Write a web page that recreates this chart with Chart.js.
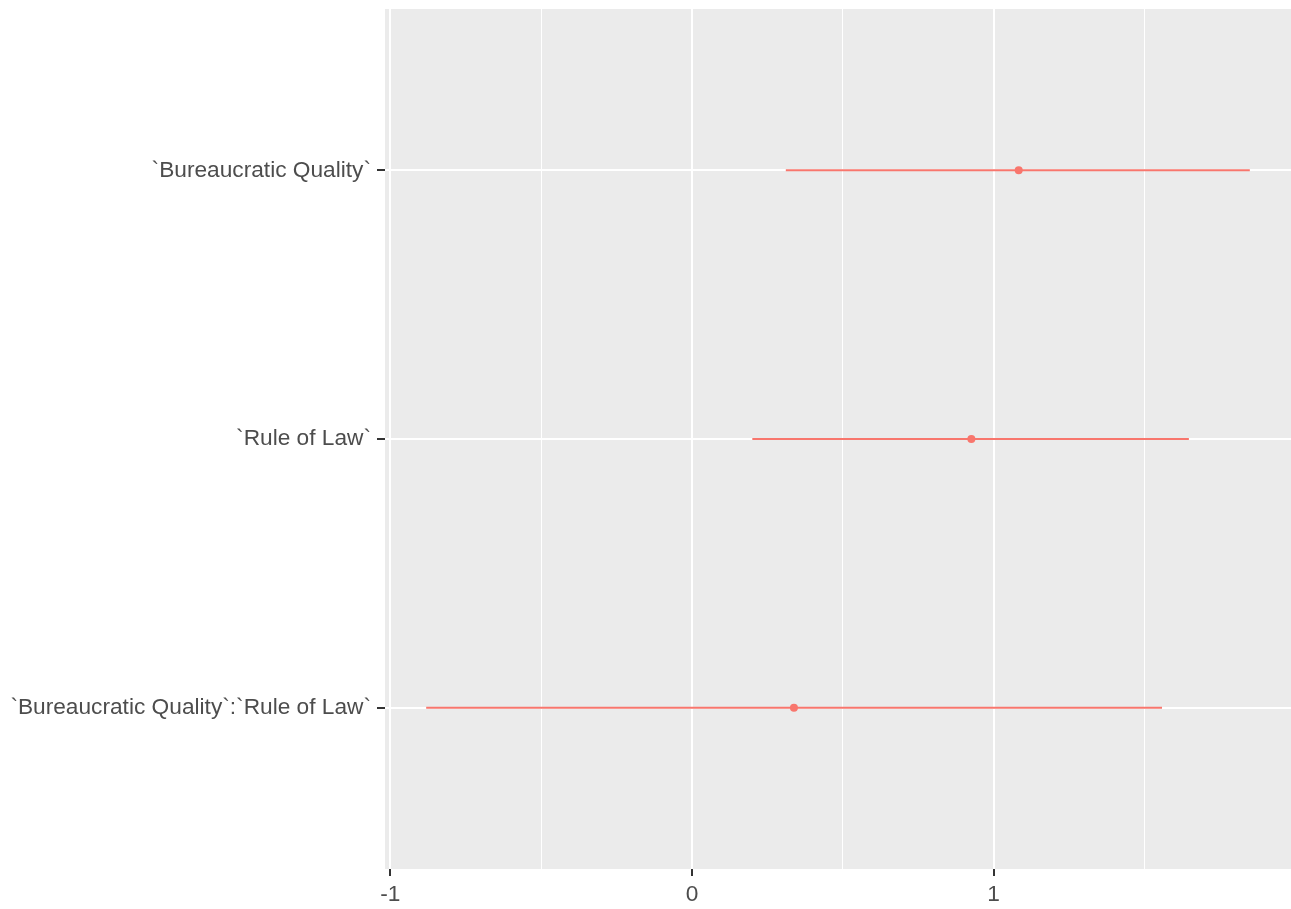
<!DOCTYPE html>
<html>
<head>
<meta charset="utf-8">
<script src="https://cdn.jsdelivr.net/npm/chart.js@4"></script>
<style>
    html, body { margin: 0; padding: 0; background: #fff; }
    #wrap { width: 1291px; height: 909px; }
</style>
</head>
<body>
<div id="wrap"><canvas id="chart"></canvas></div>
<script>
// terms, top to bottom
const terms = ["`Bureaucratic Quality`", "`Rule of Law`", "`Bureaucratic Quality`:`Rule of Law`"];
const estimates = [1.083, 0.926, 0.338];
const lower = [0.311, 0.2, -0.881];
const upper = [1.849, 1.647, 1.558];

const xMajorTicks = [-1, 0, 1];
const xMinorTicks = [-0.5, 0.5, 1.5];
const xTickLabels = ["-1", "0", "1"];

const red = "#F8766D";

const panelBg = {
    id: "panelBg",
    beforeDraw(chart) {
        const { ctx, chartArea: a } = chart;
        ctx.save();
        ctx.fillStyle = "#EBEBEB";
        ctx.fillRect(a.left, a.top, a.right - a.left, a.bottom - a.top);
        ctx.restore();
    },
};

const datasets = [
    {
        label: "estimate",
        data: estimates.map((v, i) => ({ x: v, y: i + 1 })),
        pointRadius: 4,
        pointBackgroundColor: red,
        pointBorderWidth: 0,
        showLine: false,
        order: 0,
    },
];
terms.forEach((t, i) => {
    datasets.push({
        label: t,
        data: [
            { x: lower[i], y: i + 1 },
            { x: upper[i], y: i + 1 },
        ],
        showLine: true,
        pointRadius: 0,
        borderColor: red,
        borderWidth: 2,
        order: 1,
    });
});

const isMajor = (v) => xMajorTicks.includes(v);

new Chart(document.getElementById("chart"), {
    type: "scatter",
    data: { datasets },
    plugins: [panelBg],
    options: {
        responsive: true,
        maintainAspectRatio: false,
        animation: false,
        layout: {
            autoPadding: false,
            padding: { top: 9, right: 0, left: 0, bottom: 0 },
        },
        plugins: {
            legend: { display: false },
            tooltip: { enabled: false },
        },
        scales: {
            x: {
                type: "linear",
                min: -1.0175,
                max: 1.9855,
                afterBuildTicks: (scale) => {
                    scale.ticks = xMajorTicks.concat(xMinorTicks)
                        .sort((a, b) => a - b)
                        .map((v) => ({ value: v }));
                },
                afterFit: (scale) => {
                    scale.height = 40;
                    scale.paddingLeft = 0;
                    scale.paddingRight = 0;
                },
                border: { display: false },
                grid: {
                    color: "#FFFFFF",
                    lineWidth: (c) => (isMajor(c.tick.value) ? 2 : 1),
                    drawTicks: true,
                    tickLength: 7,
                    tickWidth: 2,
                    tickColor: (c) => (isMajor(c.tick.value) ? "#333333" : "rgba(0,0,0,0)"),
                },
                ticks: {
                    color: "#4D4D4D",
                    padding: 5,
                    maxRotation: 0,
                    autoSkip: false,
                    font: { family: "Liberation Sans, Arial", size: 22.7 },
                    callback: (v) => {
                        const k = xMajorTicks.indexOf(v);
                        return k >= 0 ? xTickLabels[k] : "";
                    },
                },
            },
            y: {
                type: "linear",
                reverse: true,
                min: 0.4,
                max: 3.6,
                afterBuildTicks: (scale) => {
                    scale.ticks = terms.map((t, i) => ({ value: i + 1 }));
                },
                afterFit: (scale) => {
                    scale.width = 385;
                    scale.paddingTop = 0;
                    scale.paddingBottom = 0;
                },
                border: { display: false },
                grid: {
                    color: "#FFFFFF",
                    lineWidth: 2,
                    drawTicks: true,
                    tickLength: 8,
                    tickWidth: 2,
                    tickColor: "#333333",
                },
                ticks: {
                    color: "#4D4D4D",
                    padding: 6,
                    autoSkip: false,
                    font: { family: "Liberation Sans, Arial", size: 22.7 },
                    callback: (v) => terms[v - 1],
                },
            },
        },
    },
});
</script>
</body>
</html>
